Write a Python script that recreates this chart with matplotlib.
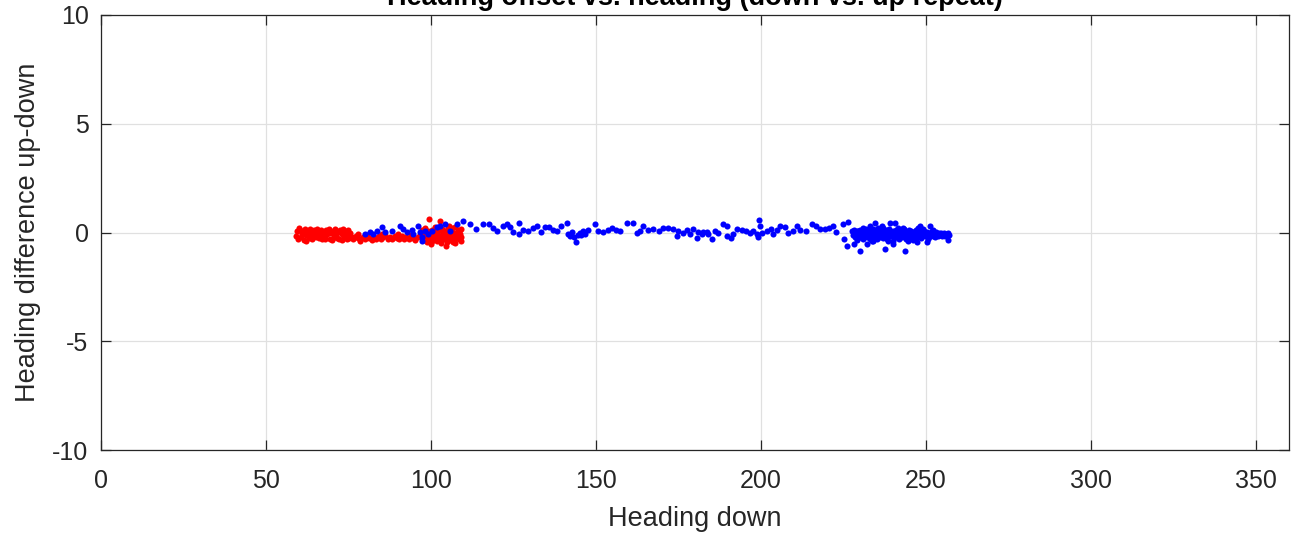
import numpy as np
import matplotlib.pyplot as plt

plt.rcParams['font.family'] = ['Liberation Sans', 'DejaVu Sans']
plt.rcParams['axes.unicode_minus'] = False

# down-pass points (heading down, heading diff up-down) – red
RED_PTS = [
    (59.2, -0.15), (59.5, 0.05), (59.8, -0.3), (60.3, 0.1), (60.6, -0.2), (61.0, 0.0),
    (61.4, -0.35), (61.8, 0.15), (62.1, -0.1), (62.5, 0.05), (62.9, -0.25), (63.3, 0.18),
    (63.7, -0.05), (64.0, -0.3), (64.4, 0.1), (64.8, -0.15), (65.2, 0.0), (65.6, 0.15),
    (66.0, -0.25), (66.3, -0.05), (66.7, 0.12), (67.1, -0.32), (67.5, 0.02), (67.9, -0.18),
    (68.3, 0.1), (68.6, -0.08), (69.0, 0.16), (69.4, -0.28), (69.8, -0.02), (70.2, 0.08),
    (70.6, -0.2), (71.0, 0.14), (71.3, -0.1), (71.7, 0.02), (72.1, -0.3), (72.5, 0.12),
    (72.9, -0.05), (73.3, 0.18), (73.7, -0.2), (74.0, 0.05), (74.4, -0.12), (74.8, 0.1),
    (75.2, -0.25), (75.6, 0.0), (59.9, 0.2), (63.0, -0.1), (66.5, -0.15), (70.0, -0.35),
    (73.0, -0.35), (76.0, -0.2), (60.8, -0.05), (62.0, -0.4), (65.0, -0.2), (68.0, -0.3),
    (71.5, -0.25), (74.5, -0.3),
    (76.5, -0.3), (77.2, -0.15), (77.9, -0.25), (78.6, -0.4), (79.3, -0.2), (80.0, -0.3),
    (80.6, -0.12), (81.3, -0.25), (82.0, -0.35), (82.7, -0.2), (83.4, -0.28), (84.1, -0.15),
    (84.8, -0.3), (85.5, -0.22), (86.2, -0.1), (86.9, -0.3), (87.6, -0.2), (88.3, -0.32),
    (89.0, -0.15), (89.7, -0.25), (90.4, -0.3), (91.1, -0.18), (91.8, -0.28), (92.5, -0.22),
    (93.2, -0.3), (93.9, -0.12), (94.6, -0.25), (95.3, -0.35), (96.0, -0.2), (96.6, -0.1),
    (78.0, -0.08), (85.0, -0.05), (90.0, -0.05),
    (97.0, -0.15), (97.3, 0.1), (97.6, -0.35), (97.9, -0.05), (98.2, 0.2), (98.5, -0.25),
    (98.8, -0.45), (99.1, 0.05), (99.4, 0.64), (99.7, -0.2), (100.0, -0.55), (100.3, 0.1),
    (100.6, -0.1), (100.9, -0.3), (101.2, 0.25), (101.5, -0.05), (101.8, -0.4), (102.1, 0.05),
    (102.4, -0.2), (102.7, 0.55), (103.0, -0.5), (103.3, 0.15), (103.6, -0.1), (103.9, -0.3),
    (104.2, 0.05), (104.5, -0.6), (104.8, -0.15), (105.1, 0.2), (105.4, -0.05), (105.7, -0.35),
    (106.0, 0.1), (106.3, -0.2), (106.6, -0.45), (106.9, 0.0), (107.2, 0.25), (107.5, -0.25),
    (107.8, -0.1), (108.1, 0.1), (108.4, -0.3), (108.7, -0.05), (109.0, 0.15), (109.2, -0.2),
    (98.0, -0.15), (99.0, -0.3), (100.5, 0.0), (101.0, -0.2), (102.0, -0.1), (103.5, 0.0),
    (104.0, -0.2), (105.0, -0.25), (106.0, -0.1), (107.0, -0.3), (108.0, -0.2), (108.5, 0.05),
    (105.5, 0.3), (102.5, -0.35), (100.2, -0.4), (104.7, -0.45), (107.4, -0.5), (101.7, 0.15),
    (103.2, -0.25), (106.4, 0.2), (109.1, -0.4),
]

# up-pass points – blue
BLUE_PTS = [
    (80.0, -0.09), (81.5, 0.02), (82.5, -0.06), (83.5, 0.06), (85.0, 0.24), (86.1, 0.02),
    (88.1, 0.06), (90.6, 0.28), (91.6, 0.17), (92.6, 0.02), (94.1, 0.12), (94.6, -0.09),
    (96.2, 0.32), (96.7, 0.02), (97.2, -0.21), (97.4, -0.37), (98.2, 0.09), (99.0, -0.09),
    (100.2, 0.06), (101.7, 0.24), (102.7, 0.28), (104.2, 0.40), (105.8, 0.09), (107.8, 0.40),
    (109.8, 0.55), (111.8, 0.37), (113.6, 0.17), (115.9, 0.37), (117.7, 0.40), (118.9, 0.22),
    (120.1, 0.09), (121.7, 0.28), (122.9, 0.37), (123.9, 0.24), (124.9, 0.02), (126.8, 0.43),
    (126.8, -0.09), (128.0, 0.12), (129.5, 0.06), (130.8, 0.22), (132.2, 0.31), (133.3, 0.02),
    (134.5, 0.24), (135.8, 0.24), (137.1, 0.12), (138.1, 0.06), (139.3, 0.31), (141.1, 0.43),
    (141.6, -0.05), (142.2, -0.15), (142.8, 0.02), (143.3, -0.2), (143.9, -0.45), (144.4, -0.1),
    (145.0, 0.0), (145.6, -0.12), (146.2, 0.05), (146.7, -0.05),
    (147.7, 0.12), (149.7, 0.37), (150.7, 0.06), (152.2, 0.02), (153.7, 0.12), (154.7, 0.22),
    (156.1, 0.12), (157.3, 0.06), (159.3, 0.43), (161.1, 0.43), (162.3, -0.03), (163.3, 0.06),
    (164.3, 0.31), (165.8, 0.12), (167.4, 0.17), (169.2, 0.06), (170.4, 0.22), (171.9, 0.22),
    (173.2, 0.17), (174.4, -0.18), (174.9, 0.06), (176.3, -0.03), (177.5, 0.12), (178.5, -0.06),
    (179.5, 0.17), (180.5, -0.24), (181.0, 0.02), (182.0, -0.06), (183.5, 0.02), (182.5, 0.02),
    (184.0, -0.06), (185.3, -0.29), (186.1, 0.06), (187.1, -0.03), (188.6, 0.37), (189.8, 0.31),
    (189.6, -0.18), (190.8, -0.24), (191.6, -0.06), (192.8, 0.17), (194.1, 0.12), (195.5, 0.06),
    (196.7, -0.03), (197.7, 0.06), (198.9, -0.06), (199.5, 0.58), (199.7, 0.28), (199.2, -0.21),
    (200.2, -0.03), (201.7, 0.06), (202.9, 0.17), (203.5, -0.06), (204.7, 0.12), (205.9, 0.28),
    (207.3, 0.24), (208.3, -0.03), (209.6, 0.06), (211.0, 0.31), (211.8, 0.12), (213.6, 0.06),
    (215.4, 0.37), (216.7, 0.28), (217.9, 0.17), (219.4, 0.17), (220.7, 0.22), (221.7, 0.28),
    (222.7, 0.02), (224.7, 0.40), (226.5, 0.47), (225.0, -0.29), (226.0, -0.64),
    (228.2, -0.52), (230.0, -0.83), (232.0, -0.52), (237.6, -0.75), (240.1, -0.52),
    (243.6, -0.83), (247.2, -0.45), (250.2, -0.45), (256.8, -0.34),
    (234.5, 0.43), (236.6, 0.32), (239.1, 0.43), (240.6, 0.43), (233.0, 0.32), (248.2, 0.32),
    (251.2, 0.28), (229.5, 0.06),
    (227.6, 0.05), (227.9, -0.12), (228.2, 0.1), (228.5, -0.2), (228.8, -0.02), (229.1, 0.08),
    (229.4, -0.25), (229.7, -0.08), (230.0, 0.12), (230.3, -0.15), (230.6, 0.0), (230.9, -0.3),
    (231.2, 0.05), (231.5, -0.1), (231.8, 0.15), (232.1, -0.22), (232.4, -0.05), (232.7, 0.08),
    (233.0, -0.28), (233.3, -0.12), (233.6, 0.02), (233.9, 0.18), (234.2, -0.18), (234.5, -0.02),
    (234.8, 0.1), (235.1, -0.3), (235.4, -0.1), (235.7, 0.05), (236.0, -0.2), (236.3, 0.14),
    (236.6, -0.06), (236.9, -0.25), (237.2, 0.02), (237.5, -0.15), (237.8, 0.1), (238.1, -0.32),
    (238.4, -0.04), (238.7, 0.16), (239.0, -0.18), (239.3, 0.0), (239.6, -0.1), (239.9, 0.08),
    (240.2, -0.26), (240.5, -0.08), (240.8, 0.12), (241.1, -0.15), (241.4, 0.03), (241.7, -0.3),
    (242.0, -0.05), (242.3, 0.1), (242.6, -0.2), (242.9, -0.02), (243.2, 0.15), (243.5, -0.12),
    (243.8, -0.28), (244.1, 0.04), (244.4, -0.1), (244.7, 0.1), (245.0, -0.22), (245.3, -0.04),
    (245.6, 0.06), (245.9, -0.15), (246.2, -0.3), (246.5, 0.02), (246.8, -0.08), (247.1, 0.12),
    (247.4, -0.2), (247.7, -0.05), (248.0, 0.05), (248.3, -0.14), (248.6, -0.25), (248.9, 0.0),
    (249.2, -0.1), (249.5, 0.08), (249.8, -0.18), (250.1, -0.05), (250.4, 0.04), (250.7, -0.12),
    (251.0, -0.22), (251.3, -0.02), (251.6, -0.1), (251.9, 0.05), (252.2, -0.15), (252.5, -0.05),
    (252.8, -0.2), (253.1, 0.02), (253.4, -0.1), (253.7, -0.16), (254.0, -0.04), (254.3, -0.12),
    (254.6, 0.0), (254.9, -0.18), (255.2, -0.08), (255.5, -0.02), (255.8, -0.14), (256.1, -0.06),
    (256.4, -0.1), (256.7, 0.0), (256.9, -0.12),
    (229.0, -0.35), (231.0, 0.2), (234.0, -0.4), (237.0, 0.22), (240.0, -0.38), (243.0, 0.2),
    (246.0, -0.36), (249.0, 0.18), (252.0, 0.12), (233.5, -0.38), (238.5, -0.4), (244.5, -0.38),
    (250.5, -0.3), (235.5, 0.2), (241.5, 0.22), (247.5, 0.2),
]

XTICKS = [0, 50, 100, 150, 200, 250, 300, 350]
YTICKS = [-10, -5, 0, 5, 10]

red = np.array(RED_PTS)
blue = np.array(BLUE_PTS)

fig = plt.figure(figsize=(12.93, 5.40), dpi=100)
ax = fig.add_axes([101 / 1293, 90 / 540, 1188 / 1293, 435 / 540])

ax.plot(red[:, 0], red[:, 1], 'o', color='#ff0000', ms=4.4, mew=0, zorder=3)
ax.plot(blue[:, 0], blue[:, 1], 'o', color='#0000ff', ms=4.4, mew=0, zorder=3)

ax.set_xlim(0, 360)
ax.set_ylim(-10, 10)
ax.set_xticks(XTICKS)
ax.set_yticks(YTICKS)
ax.grid(True, color='#e0e0e0', lw=0.9)
ax.set_axisbelow(True)
ax.tick_params(direction='in', length=7, width=0.9, colors='#262626',
               labelsize=18, top=True, right=True)
ax.tick_params(axis='x', pad=14)
ax.tick_params(axis='y', pad=9)
for s in ax.spines.values():
    s.set_color('#262626')
    s.set_linewidth(0.9)

ax.set_xlabel('Heading down', fontsize=19.5, color='#262626', labelpad=9)
ax.set_ylabel('Heading difference up-down', fontsize=19.5, color='#262626', labelpad=8)
fig.text(695 / 1293, 1 - 5 / 540, 'Heading offset vs. heading (down vs. up repeat)',
         ha='center', va='baseline', fontsize=19.5, fontweight='bold', color='#000000')

fig.savefig('out.png', dpi=100)
